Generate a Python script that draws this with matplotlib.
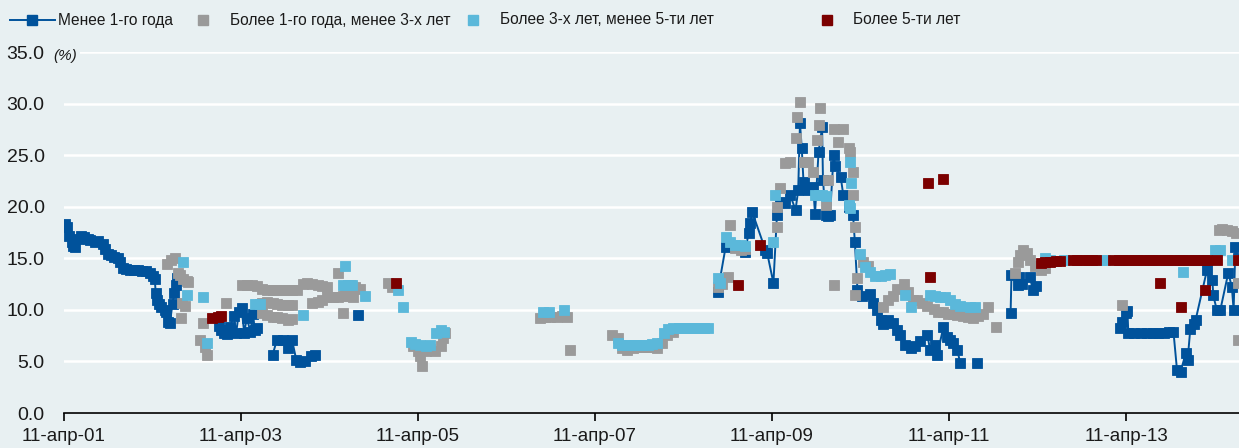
import numpy as np
import matplotlib.pyplot as plt
from matplotlib.lines import Line2D

plt.rcParams['font.family'] = ['Liberation Sans', 'DejaVu Sans']

# --- data (decimal years, %) ---
series_names = ['Менее 1-го года', 'Более 1-го года, менее 3-х лет',
                'Более 3-х лет, менее 5-ти лет', 'Более 5-ти лет']
tick_labels = ['11-апр-01', '11-апр-03', '11-апр-05', '11-апр-07',
               '11-апр-09', '11-апр-11', '11-апр-13']
tick_years = [2001 + 100 / 365 + 2 * i for i in range(len(tick_labels))]

# under 1 year (segments joined by a line)
blue_seg1_x = [2001.29, 2001.31, 2001.33, 2001.36, 2001.38, 2001.40, 2001.43, 2001.47, 2001.50,
               2001.54, 2001.57, 2001.62, 2001.66, 2001.71, 2001.74, 2001.77, 2001.81, 2001.84,
               2001.88, 2001.91, 2001.94, 2001.98, 2002.02, 2002.07, 2002.11, 2002.16, 2002.20,
               2002.25, 2002.28, 2002.30, 2002.31, 2002.33, 2002.35, 2002.37, 2002.41, 2002.43,
               2002.45, 2002.47, 2002.50, 2002.52, 2002.54, 2002.55]
blue_seg1_y = [18.3, 18.0, 17.2, 16.6, 16.2, 16.1, 16.9, 17.2, 17.1,
               16.9, 16.8, 16.6, 16.7, 16.4, 15.9, 15.4, 15.3, 15.1,
               15.0, 14.6, 14.1, 14.0, 13.9, 13.9, 13.9, 13.8, 13.8,
               13.6, 13.3, 13.0, 11.6, 11.0, 10.6, 10.3, 10.0, 9.8,
               8.8, 8.7, 10.6, 11.6, 12.4, 13.1]
blue_seg2_x = [2003.02, 2003.05, 2003.08, 2003.12, 2003.15, 2003.19, 2003.22, 2003.25, 2003.28,
               2003.31, 2003.34, 2003.38, 2003.41, 2003.43, 2003.46]
blue_seg2_y = [8.4, 8.0, 7.8, 7.7, 8.3, 9.4, 7.8, 9.8, 10.2,
               7.8, 9.2, 7.9, 9.6, 8.0, 8.2]
blue_seg3_x = [2003.63, 2003.68, 2003.75, 2003.80, 2003.85, 2003.90, 2003.94, 2004.00, 2004.06, 2004.11]
blue_seg3_y = [5.6, 7.1, 7.1, 6.3, 7.1, 5.1, 4.9, 5.0, 5.5, 5.6]
blue_seg4_x = [2004.60]
blue_seg4_y = [9.5]
blue_seg5_x = [2008.66, 2008.75, 2008.97, 2009.01, 2009.03, 2009.05, 2009.20, 2009.22, 2009.29,
               2009.33, 2009.37, 2009.42, 2009.48, 2009.54, 2009.57, 2009.59, 2009.61, 2009.63,
               2009.68, 2009.74, 2009.76, 2009.80, 2009.84, 2009.85, 2009.88, 2009.91, 2009.93,
               2009.97, 2009.99, 2010.05, 2010.08, 2010.14, 2010.19, 2010.21, 2010.24, 2010.29,
               2010.38, 2010.42, 2010.46, 2010.50, 2010.53, 2010.58, 2010.64, 2010.69, 2010.72,
               2010.78, 2010.84, 2010.89, 2010.95, 2011.03, 2011.06, 2011.12, 2011.14, 2011.21,
               2011.25, 2011.29, 2011.32, 2011.37, 2011.40]
blue_seg5_y = [11.7, 16.1, 15.6, 17.5, 18.4, 19.5, 15.8, 15.5, 12.6,
               19.2, 20.5, 20.4, 21.1, 19.7, 21.6, 28.1, 25.7, 22.4,
               21.6, 21.9, 19.3, 25.3, 27.7, 22.6, 19.2, 19.1, 19.2,
               25.0, 23.9, 22.9, 21.1, 20.0, 19.2, 16.6, 11.9, 11.3,
               11.5, 10.7, 10.0, 9.0, 8.6, 9.0, 8.7, 8.0, 7.6,
               6.6, 6.3, 6.5, 7.0, 7.6, 6.1, 6.6, 5.6, 8.3,
               7.4, 7.1, 6.8, 6.1, 4.8]
blue_seg6_x = [2011.59]
blue_seg6_y = [4.8]
blue_seg7_x = [2011.97, 2011.98, 2012.05, 2012.07, 2012.10, 2012.19, 2012.22, 2012.26]
blue_seg7_y = [9.7, 13.4, 12.4, 13.2, 12.5, 13.2, 11.9, 12.3]
blue_seg8_x = [2013.21, 2013.23, 2013.27, 2013.29, 2013.30, 2013.36, 2013.44, 2013.51, 2013.58,
               2013.64, 2013.70, 2013.76, 2013.81, 2013.85, 2013.89, 2013.95, 2013.97, 2014.00,
               2014.04, 2014.06, 2014.19, 2014.25, 2014.26, 2014.30, 2014.34, 2014.43, 2014.47,
               2014.49, 2014.51, 2014.54]
blue_seg8_y = [8.2, 8.8, 9.7, 9.9, 7.8, 7.8, 7.8, 7.8, 7.8,
               7.8, 7.8, 7.9, 7.9, 4.2, 4.0, 5.8, 5.1, 8.1,
               8.6, 9.0, 13.9, 12.9, 11.4, 10.0, 10.0, 13.6, 12.2,
               10.0, 16.1, 15.0]

# 1 to 3 years
gray_x = [2002.44, 2002.48, 2002.53, 2002.56, 2002.59, 2002.62, 2002.66, 2002.68, 2002.61, 2002.64,
          2002.60, 2002.81, 2002.84, 2002.87, 2002.89, 2003.10,
          2003.29, 2003.34, 2003.40, 2003.46, 2003.51, 2003.57, 2003.63, 2003.68, 2003.74, 2003.80,
          2003.85, 2003.91, 2003.97, 2004.02, 2004.08, 2004.14, 2004.19, 2004.25, 2004.37, 2004.45,
          2004.51, 2004.56, 2004.62, 2004.94, 2004.98,
          2003.51, 2003.57, 2003.63, 2003.68, 2003.74, 2003.80, 2003.85,
          2003.51, 2003.57, 2003.63, 2003.68, 2003.74, 2003.80, 2003.85,
          2004.08, 2004.14, 2004.19, 2004.25, 2004.31, 2004.37, 2004.43, 2004.48, 2004.54, 2004.43,
          2005.22, 2005.27, 2005.30, 2005.32, 2005.36, 2005.41, 2005.47, 2005.53, 2005.56, 2005.58,
          2006.65, 2006.71, 2006.77, 2006.85, 2006.90, 2006.96, 2006.99,
          2007.47, 2007.53, 2007.58, 2007.64, 2007.70, 2007.75, 2007.81, 2007.87, 2007.92, 2007.98,
          2008.03, 2008.09, 2008.15,
          2008.66, 2008.71, 2008.78, 2008.80, 2008.86, 2008.92, 2008.97,
          2009.33, 2009.33, 2009.37, 2009.42, 2009.48, 2009.54, 2009.56, 2009.59, 2009.63, 2009.68,
          2009.74, 2009.78, 2009.80, 2009.82, 2009.88, 2009.91, 2009.97, 2009.97, 2010.02, 2010.08,
          2010.14, 2010.16, 2010.19, 2010.19, 2010.21, 2010.24, 2010.21, 2010.30, 2010.36, 2010.53,
          2010.58, 2010.64, 2010.69, 2010.76, 2010.81, 2010.87, 2010.91, 2010.97, 2011.03, 2011.10,
          2011.15, 2011.21, 2011.26, 2011.32, 2011.37, 2011.43, 2011.49, 2011.55, 2011.60, 2011.66,
          2011.72, 2011.80,
          2012.02, 2012.05, 2012.08, 2012.11, 2012.16, 2012.19, 2012.25, 2012.31, 2012.36,
          2013.23, 2014.32, 2014.36, 2014.42, 2014.47, 2014.52, 2014.54, 2014.54]
gray_y = [14.4, 14.8, 15.0, 13.6, 13.4, 13.0, 12.8, 12.7, 10.7, 10.4,
          9.2, 7.1, 8.7, 6.4, 5.6, 10.7,
          12.4, 12.4, 12.4, 12.3, 12.0, 11.9, 11.9, 11.9, 11.9, 11.9,
          11.9, 11.9, 12.5, 12.6, 12.5, 12.4, 12.3, 12.2, 13.6, 12.3,
          12.4, 12.2, 12.0, 12.6, 12.2,
          10.7, 10.8, 10.7, 10.6, 10.5, 10.5, 10.5,
          9.7, 9.5, 9.3, 9.3, 9.2, 9.0, 9.1,
          10.7, 10.8, 11.0, 11.2, 11.2, 11.2, 11.3, 11.3, 11.2, 9.7,
          6.5, 6.0, 5.5, 4.6, 6.0, 6.2, 6.0, 6.5, 7.3, 7.8,
          9.2, 9.3, 9.3, 9.3, 9.4, 9.3, 6.1,
          7.6, 7.3, 6.3, 6.1, 6.3, 6.4, 6.4, 6.4, 6.4, 6.3,
          6.8, 7.6, 7.9,
          12.2, 12.5, 13.2, 18.2, 16.0, 15.8, 15.9,
          18.0, 20.0, 21.8, 24.2, 24.3, 26.7, 28.7, 30.2, 24.3, 24.3,
          23.4, 26.5, 27.9, 29.6, 20.2, 22.6, 12.4, 27.5, 26.3, 27.5,
          25.7, 25.3, 23.4, 21.1, 18.0, 13.1, 11.4, 14.6, 14.3, 10.3,
          11.0, 11.3, 12.0, 12.5, 11.7, 11.0, 11.0, 10.7, 10.4, 10.1,
          9.8, 9.8, 9.6, 9.6, 9.5, 9.4, 9.3, 9.2, 9.4, 9.6,
          10.3, 8.3,
          13.6, 14.6, 15.3, 15.8, 15.5, 14.8, 14.3, 13.9, 14.1,
          10.5, 17.7, 17.8, 17.7, 17.6, 17.5, 12.6, 7.1]

# 3 to 5 years
lblue_x = [2002.62, 2002.66, 2002.85, 2002.89,
           2003.43, 2003.49, 2003.97, 2004.45, 2004.43, 2004.48, 2004.53, 2004.68,
           2005.05, 2005.10, 2005.19, 2005.24, 2005.30, 2005.36, 2005.41, 2005.48, 2005.53, 2005.57,
           2006.69, 2006.75, 2006.92,
           2007.53, 2007.58, 2007.64, 2007.70, 2007.75, 2007.81, 2007.87, 2007.92, 2007.98, 2008.05,
           2008.10, 2008.16, 2008.22, 2008.27, 2008.33, 2008.38, 2008.44, 2008.50, 2008.55,
           2008.66, 2008.69, 2008.75, 2008.80, 2008.86, 2008.92, 2008.97, 2009.29, 2009.31, 2009.76,
           2009.80, 2009.84, 2009.88, 2010.15, 2010.17, 2010.14, 2010.16, 2010.27, 2010.33, 2010.38,
           2010.44, 2010.50, 2010.55, 2010.61, 2010.78, 2010.84, 2011.06, 2011.12, 2011.17, 2011.23,
           2011.29, 2011.34, 2011.40, 2011.51, 2011.57,
           2012.36, 2012.42, 2012.57, 2012.99, 2013.04, 2013.92, 2014.28, 2014.34, 2014.47]
lblue_y = [14.6, 11.4, 11.2, 6.8,
           10.6, 10.6, 9.5, 14.3, 12.4, 12.4, 12.4, 11.3,
           11.9, 10.3, 6.9, 6.7, 6.6, 6.5, 6.6, 7.8, 8.0, 7.9,
           9.8, 9.8, 10.0,
           6.8, 6.6, 6.6, 6.6, 6.6, 6.6, 6.6, 6.7, 6.8, 7.8,
           8.1, 8.2, 8.2, 8.2, 8.2, 8.2, 8.2, 8.2, 8.2,
           13.1, 12.6, 17.1, 16.6, 16.3, 16.3, 16.2, 16.6, 21.1, 21.1,
           21.1, 21.1, 21.0, 24.3, 22.3, 20.2, 19.9, 15.4, 14.2, 13.7,
           13.3, 13.3, 13.4, 13.5, 11.4, 10.3, 11.4, 11.3, 11.2, 11.2,
           11.0, 10.6, 10.4, 10.3, 10.3,
           15.0, 14.8, 14.8, 14.8, 14.8, 13.7, 15.8, 15.8, 14.8]

# over 5 years
red_x = [2002.95, 2003.01, 2003.05, 2005.03, 2008.89, 2009.14, 2011.04, 2011.06, 2011.21,
         2012.31, 2012.36, 2012.42, 2012.48, 2012.53, 2012.67, 2012.72, 2012.78, 2012.84, 2012.89,
         2012.93, 2013.13, 2013.19, 2013.24, 2013.30, 2013.36, 2013.41, 2013.47, 2013.53, 2013.58,
         2013.64, 2013.70, 2013.75, 2013.81, 2013.87, 2013.92, 2013.98, 2014.04, 2014.09, 2014.15,
         2014.19, 2013.66, 2013.89, 2014.17, 2014.30, 2014.54]
red_y = [9.2, 9.3, 9.4, 12.6, 12.4, 16.3, 22.3, 13.2, 22.7,
         14.5, 14.6, 14.6, 14.7, 14.7, 14.8, 14.8, 14.8, 14.8, 14.8,
         14.8, 14.8, 14.8, 14.8, 14.8, 14.8, 14.8, 14.8, 14.8, 14.8,
         14.8, 14.8, 14.8, 14.8, 14.8, 14.8, 14.8, 14.8, 14.8, 14.8,
         14.8, 12.6, 10.3, 11.9, 14.8, 14.8]

# --- styling ---
bg = '#E8F0F2'
c_blue = '#00529B'
c_gray = '#9A9A9A'
c_lblue = '#5BB8DA'
c_red = '#7B0000'
c_text = '#1A1A1A'
ms = 7.2

W, H = 1239, 448
fig = plt.figure(figsize=(W / 100, H / 100), dpi=100, facecolor=bg)
ax = fig.add_axes([64 / W, 35 / H, 1175 / W, 361 / H])
ax.set_facecolor(bg)

# join blue segments with NaN gaps
segs = [(blue_seg1_x, blue_seg1_y), (blue_seg2_x, blue_seg2_y), (blue_seg3_x, blue_seg3_y),
        (blue_seg4_x, blue_seg4_y), (blue_seg5_x, blue_seg5_y), (blue_seg6_x, blue_seg6_y),
        (blue_seg7_x, blue_seg7_y), (blue_seg8_x, blue_seg8_y)]
bx, by = [], []
for sx, sy in segs:
    bx += list(sx) + [np.nan]
    by += list(sy) + [np.nan]

ax.plot(bx, by, color=c_blue, lw=1.4, marker='s', ms=ms, mec=c_blue, mew=0.6, zorder=3)
ax.plot(gray_x, gray_y, ls='none', marker='s', ms=ms, color=c_gray, mec=c_gray, mew=0.6, zorder=4)
ax.plot(lblue_x, lblue_y, ls='none', marker='s', ms=ms, color=c_lblue, mec=c_lblue, mew=0.6, zorder=5)
ax.plot(red_x, red_y, ls='none', marker='s', ms=ms, color=c_red, mec=c_red, mew=0.6, zorder=6)

ax.set_xlim(tick_years[0], tick_years[0] + 1175 / 88.5)
ax.set_ylim(0, 35)
ax.set_yticks(np.arange(0, 36, 5))
ax.set_yticklabels([f'{v:.1f}' for v in np.arange(0, 36, 5)])
ax.set_xticks(tick_years)
ax.set_xticklabels(tick_labels)
ax.yaxis.grid(True, color='white', lw=1.8)
ax.set_axisbelow(True)
for s in ['left', 'right', 'top']:
    ax.spines[s].set_visible(False)
ax.spines['bottom'].set_color('black')
ax.spines['bottom'].set_linewidth(1.2)
ax.spines['bottom'].set_zorder(7)
ax.tick_params(axis='y', length=0, pad=14, labelsize=14, labelcolor=c_text)
ax.tick_params(axis='x', length=6, width=1.2, pad=5, labelsize=13.5, labelcolor=c_text, color='black')

fig.text(53 / W, 1 - 56 / H, '(%)', style='italic', fontsize=11, va='center', ha='left',
         color=c_text, bbox=dict(facecolor=bg, edgecolor='none', pad=2), zorder=10)

# legend row
ly = 1 - 20 / H
leg = [(c_blue, 32, 58, True), (c_gray, 203, 230, False),
       (c_lblue, 473, 500, False), (c_red, 827, 853, False)]
for (col, mx, tx, with_line), name in zip(leg, series_names):
    if with_line:
        fig.add_artist(Line2D([10 / W, 55 / W], [ly, ly], color=col, lw=1.4,
                              transform=fig.transFigure))
    fig.add_artist(Line2D([mx / W], [ly], marker='s', ms=ms, color=col, mec=col,
                          transform=fig.transFigure))
    fig.text(tx / W, ly, name, fontsize=11.2, va='center', ha='left', color=c_text)

fig.savefig('out.png', dpi=100, facecolor=bg)
